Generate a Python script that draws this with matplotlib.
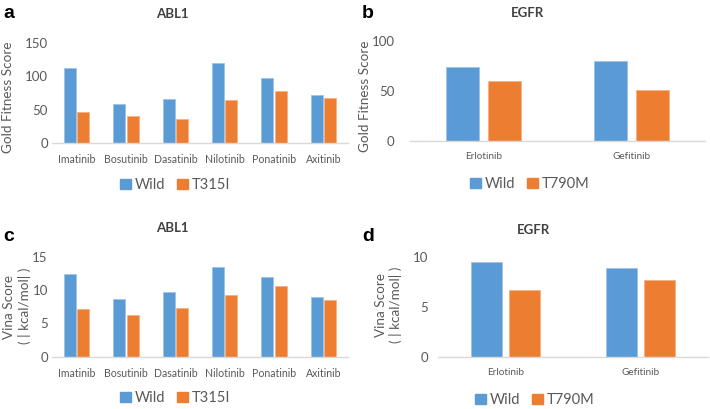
import numpy as np
import matplotlib
matplotlib.use("Agg")
import matplotlib.pyplot as plt
from matplotlib.patches import Patch

plt.rcParams['font.family'] = ['Lato', 'DejaVu Sans']

abl1_drugs = ["Imatinib", "Bosutinib", "Dasatinib", "Nilotinib", "Ponatinib", "Axitinib"]
egfr_drugs = ["Erlotinib", "Gefitinib"]

# Gold fitness scores
abl1_gold_wild = [112.5, 58, 66, 119.5, 97, 72.5]
abl1_gold_t315i = [46.5, 41, 35.5, 64, 77.5, 68]
egfr_gold_wild = [74.3, 79.7]
egfr_gold_t790m = [60, 51]

# Vina scores
abl1_vina_wild = [12.45, 8.7, 9.7, 13.45, 11.95, 8.95]
abl1_vina_t315i = [7.2, 6.2, 7.3, 9.25, 10.55, 8.45]
egfr_vina_wild = [9.47, 8.9]
egfr_vina_t790m = [6.63, 7.63]

BLUE = "#5B9BD5"
ORANGE = "#ED7D31"
GRAY = "#595959"
W, H = 710, 409


def px_axes(fig, left, right, top, bottom):
    return fig.add_axes([left / W, 1 - bottom / H, (right - left) / W, (bottom - top) / H])


def bar_panel(ax, labels, wild, mut, ymax, ystep, width, offset, xfs, ypad):
    x = np.arange(len(labels))
    ax.bar(x - offset, wild, width, color=BLUE, edgecolor="#9DC3E6", linewidth=0.6)
    ax.bar(x + offset, mut, width, color=ORANGE, edgecolor="#F4B183", linewidth=0.6)
    ax.set_xlim(-0.5, len(labels) - 0.5)
    ax.set_ylim(0, ymax)
    ax.set_yticks(np.arange(0, ymax + 1, ystep))
    ax.set_xticks(x)
    ax.set_xticklabels(labels, fontsize=xfs, color=GRAY)
    ax.tick_params(axis="y", labelsize=9.5, colors=GRAY, length=0, pad=ypad)
    ax.tick_params(axis="x", length=0, pad=8)
    for s in ["top", "right", "left"]:
        ax.spines[s].set_visible(False)
    ax.spines["bottom"].set_color("#D9D9D9")
    ax.spines["bottom"].set_linewidth(1.0)


def px_text(fig, x, y, s, **kw):
    fig.text(x / W, 1 - y / H, s, ha="center", va="center", **kw)


fig = plt.figure(figsize=(7.1, 4.09), dpi=100)

ax_a = px_axes(fig, 52, 348, 43, 143)
bar_panel(ax_a, abl1_drugs, abl1_gold_wild, abl1_gold_t315i, 150, 50, 0.24, 0.135, 7.6, 3)
ax_b = px_axes(fig, 410, 705, 41, 141)
bar_panel(ax_b, egfr_drugs, egfr_gold_wild, egfr_gold_t790m, 100, 50, 0.224, 0.142, 7.2, 11)
ax_c = px_axes(fig, 52, 348, 256.7, 356.7)
bar_panel(ax_c, abl1_drugs, abl1_vina_wild, abl1_vina_t315i, 15, 5, 0.24, 0.135, 7.6, 3)
ax_d = px_axes(fig, 438, 708, 256.7, 356.7)
bar_panel(ax_d, egfr_drugs, egfr_vina_wild, egfr_vina_t790m, 10, 5, 0.227, 0.143, 7.2, 7)

ylab = dict(fontsize=9.7, color=GRAY, rotation=90)
px_text(fig, 8, 97, "Gold Fitness Score", **ylab)
px_text(fig, 365, 96, "Gold Fitness Score", **ylab)
px_text(fig, 9, 307, "Vina Score", **ylab)
px_text(fig, 25, 306, "( | kcal/mol| )", **ylab)
px_text(fig, 381, 305, "Vina Score", **ylab)
px_text(fig, 395, 305, "( | kcal/mol| )", **ylab)

titles = [(172, 14, "ABL1"), (528, 13, "EGFR"), (172, 228, "ABL1"), (533, 230, "EGFR")]
for x, y, t in titles:
    px_text(fig, x, y, t, fontsize=9.5, fontweight="bold", color="#404040")

letters = [(9, 14, "a"), (368, 13, "b"), (9, 237, "c"), (368, 237, "d")]
for x, y, t in letters:
    px_text(fig, x, y, t, fontsize=14, fontweight="bold", color="black",
            family=["Liberation Sans", "DejaVu Sans"])

legends = [(175, 185, "T315I"), (530, 184, "T790M"), (175, 398, "T315I"), (535, 400, "T790M")]
for x, y, mut in legends:
    handles = [Patch(color=BLUE, label="Wild"), Patch(color=ORANGE, label=mut)]
    fig.legend(handles=handles, loc="center", bbox_to_anchor=(x / W, 1 - y / H), ncol=2,
               frameon=False, fontsize=10.5, labelcolor=GRAY, handlelength=0.75,
               handleheight=0.75, handletextpad=0.25, columnspacing=0.8)

fig.savefig("out.png", dpi=100)
